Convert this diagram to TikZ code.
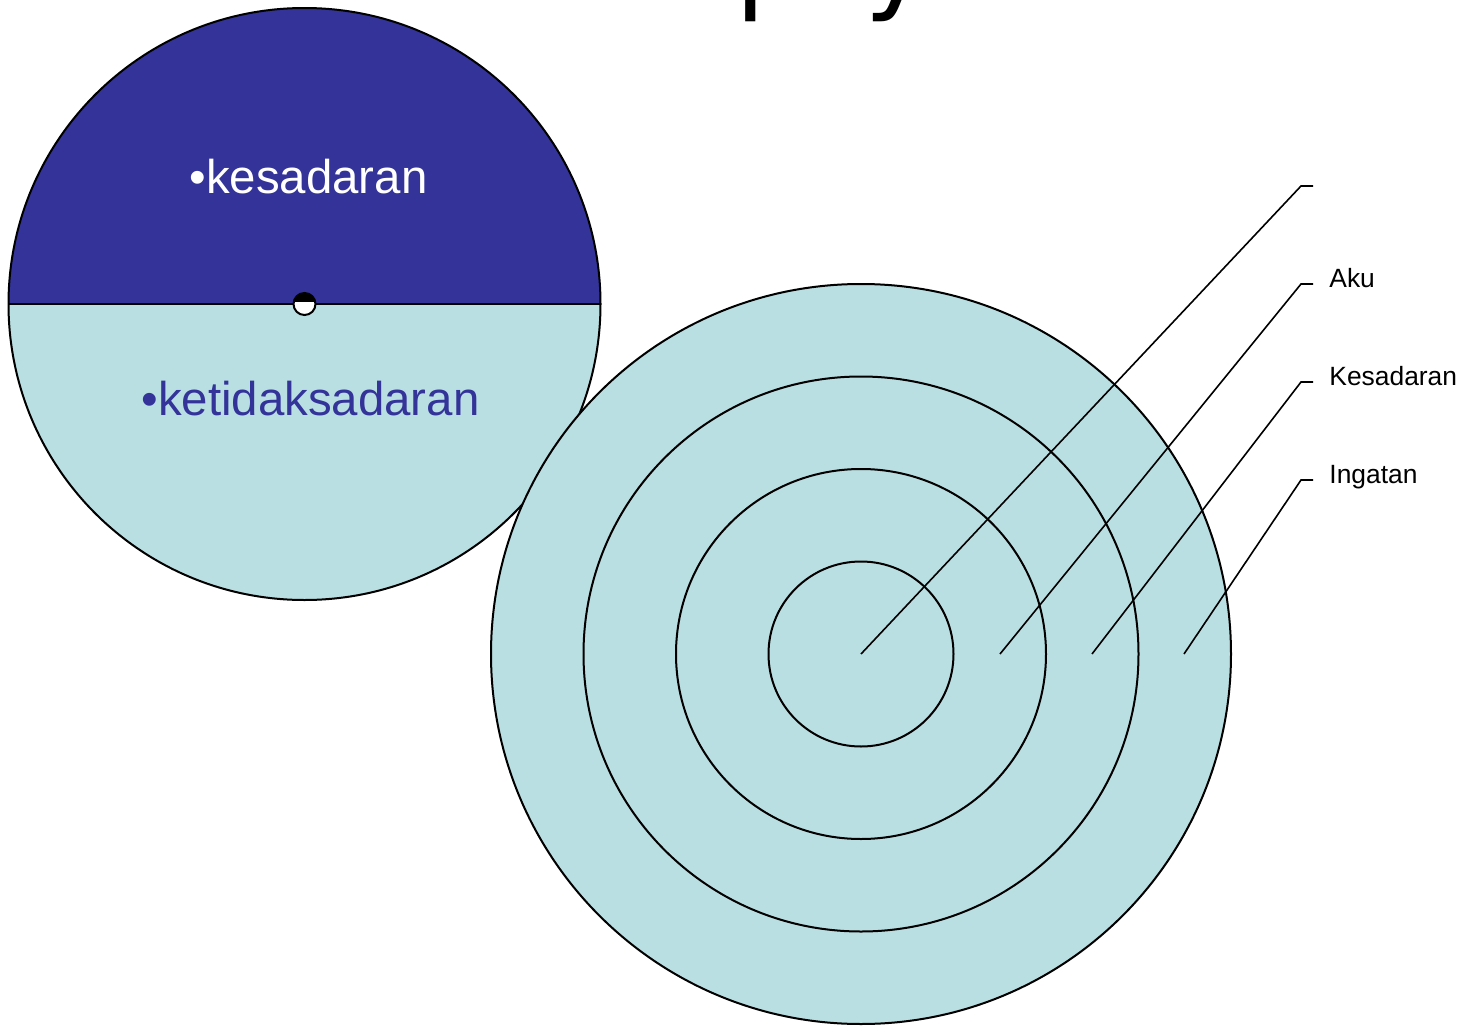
\documentclass[tikz,border=0pt]{standalone}
\usepackage{fontspec}
\setmainfont{Liberation Sans}
\newfontfamily\titlefont{DejaVu Sans}
\usepackage{tikz}
\usetikzlibrary{calc}
\definecolor{psyblue} {HTML}{333399}
\definecolor{psylight}{HTML}{B9DFE3}
\tikzset{
  outline/.style={draw=black, line width=1pt},
  ring/.style={outline, fill=psylight},
  leader/.style={draw=black, line width=0.8pt},
  layerlabel/.style={
    anchor=base west, inner sep=0pt,
    font=\fontsize{13.2}{15}\selectfont, text=black
  },
  zonetext/.style={
    anchor=base, inner sep=0pt,
    font=\fontsize{23.7}{28}\selectfont, text=#1
  }
}

\begin{document}
\begin{tikzpicture}[x=0.5pt, y=-0.5pt]
  \useasboundingbox (0,0) rectangle (1463,1028);
  \fill[white] (0,0) rectangle (1463,1028);

  % title, cut off by the top edge
  \node[anchor=base west, inner sep=0pt,
        font=\titlefont\fontsize{56}{60}\selectfont] (title) at (735,-2) {psy};

  % left disc: conscious / unconscious
  \coordinate (mind) at (304.5,304);
  \begin{scope}
    \clip (mind) circle[radius=296];
    \fill[psyblue] (mind) ++(-300,-300) rectangle ++(600,300);
    \fill[psylight] (mind) ++(-300,0) rectangle ++(600,300);
  \end{scope}
  \draw[outline] (mind) circle[radius=296];
  \draw[outline] (mind) ++(-296,0) -- ++(592,0);

  \node[zonetext=white] (upper) at (308.5,193) {•kesadaran};
  \node[zonetext=psyblue] (lower) at (310.5,415) {•ketidaksadaran};

  % small mark on the divide
  \begin{scope}
    \clip (mind) circle[radius=11];
    \fill[white] (mind) ++(-12,-12) rectangle ++(24,24);
    \fill[black] (mind) ++(-12,-12) rectangle ++(24,10);
  \end{scope}
  \draw[outline] (mind) circle[radius=11];

  % right disc: layers
  \coordinate (self) at (861,654);
  \foreach \r in {370,277.5,185,92.5}{
    \draw[ring] (self) circle[radius=\r];
  }

  \foreach \sx/\ty/\id/\txt in {861/186/a/{}, 1000/284/b/Aku,
                                1092/382/c/Kesadaran, 1184/480/d/Ingatan}{
    \coordinate (\id start) at (\sx,654);
    \coordinate (\id knee) at (1301,\ty);
    \coordinate (\id end) at (1313,\ty);
    \node[layerlabel] (\id label) at (1329,\ty+3) {\txt};
    \draw[leader] (\id start) -- (\id knee) -- (\id end);
  }

\end{tikzpicture}
\end{document}
